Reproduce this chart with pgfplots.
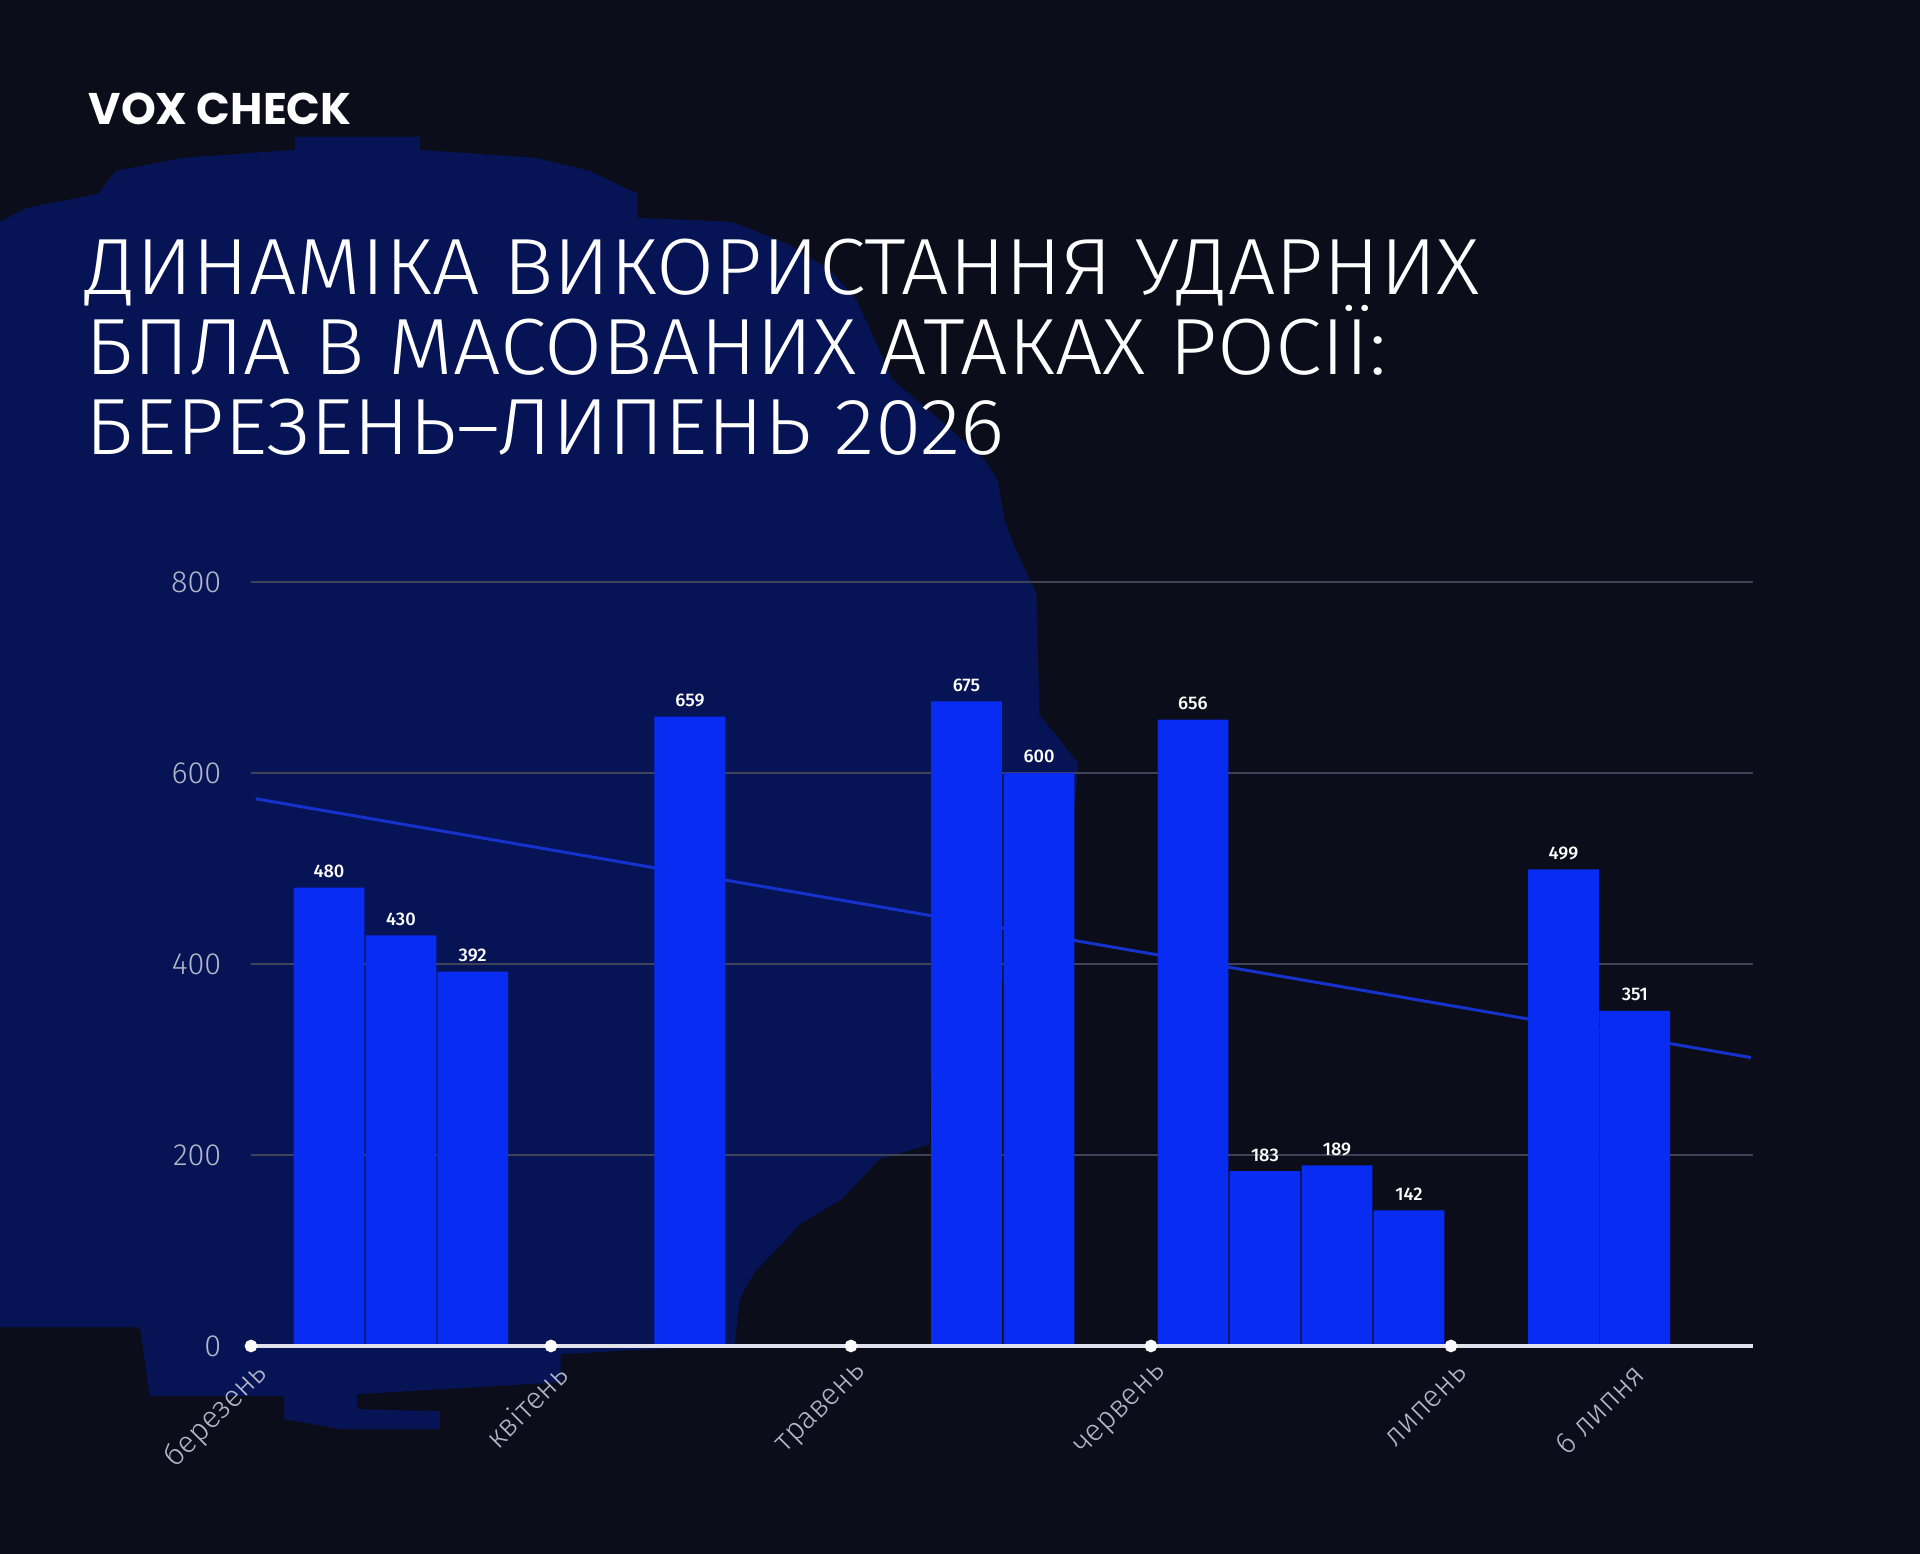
\documentclass[border=0pt]{standalone}
\usepackage{pgfplots}
\pgfplotsset{compat=1.18}
\usepackage{pgfplotstable}
\usepackage{fontspec}
\setmainfont{Fira Sans}
\newfontfamily\titlefont{Fira Sans Light}
\newfontfamily\valfont{Fira Sans Medium}
\newfontfamily\logofont{Poppins}
\definecolor{bgdark}{RGB}{12,13,26}
\definecolor{blob}{RGB}{6,20,86}
\definecolor{barblue}{RGB}{8,44,242}
\definecolor{trend}{RGB}{22,50,205}
\definecolor{gridgrey}{RGB}{64,66,88}
\definecolor{ticktext}{RGB}{178,182,200}
\definecolor{zeroline}{RGB}{225,226,235}

\pgfplotstableread{
x y
0.260 480
0.500 430
0.739 392
1.463 659
2.385 675
2.627 600
3.140 656
3.380 183
3.620 189
3.860 142
4.375 499
4.613 351
}\attacks

\begin{document}
\begin{tikzpicture}
\fill[bgdark] (0,0) rectangle (19.2,15.54);
\begin{scope}[yshift=15.54cm, x=0.01cm, y=-0.01cm]
\fill[blob] (0,222) -- (27,208) -- (98,194) -- (116,171) -- (183,158) -- (295,150) -- (295,137) -- (420,137) -- (420,150) -- (536,158) -- (590,171) -- (638,194) -- (638,218) -- (732,222) -- (790,245) -- (830,270) -- (857,300) -- (875,340) -- (893,380) -- (940,420) -- (985,460) -- (998,480) -- (1005,520) -- (1014,545) -- (1037,594) -- (1040,715) -- (1060,740) -- (1079,764) -- (1076,800) -- (1000,990) -- (932,1036) -- (930,1145) -- (880,1160) -- (842,1200) -- (800,1225) -- (777,1250) -- (755,1273) -- (740,1300) -- (735,1346) -- (650,1350) -- (561,1355) -- (561,1383) -- (357,1395) -- (357,1410) -- (440,1412) -- (440,1430) -- (342,1430) -- (284,1420) -- (284,1397) -- (150,1397) -- (140,1328) -- (0,1328) -- cycle;
\end{scope}
\node[anchor=base west, inner sep=0pt, text=white, font=\logofont\bfseries\fontsize{12.6}{15}\selectfont] at (0.88,14.29) {VOX CHECK};
\begin{scope}[every node/.style={anchor=base west, inner sep=0pt, text=white, xscale=1.054, font=\titlefont\fontsize{22.7}{27}\selectfont}]
\node at (0.85,12.59) {ДИНАМІКА ВИКОРИСТАННЯ УДАРНИХ};
\node at (0.85,11.79) {БПЛА В МАСОВАНИХ АТАКАХ РОСІЇ:};
\node at (0.85,10.99) {БЕРЕЗЕНЬ–ЛИПЕНЬ 2026};
\end{scope}
\begin{axis}[
  at={(2.51cm,2.08cm)}, anchor=south west,
  width=15.02cm, height=7.64cm, scale only axis,
  xmin=0, xmax=5.007, ymin=0, ymax=800,
  axis line style={draw=none},
  ytick={0,200,400,600,800},
  ymajorgrids, grid style={gridgrey, line width=0.55pt},
  major tick length=0pt,
  xtick={0,1,2,3,4,4.59},
  xticklabels={березень,квітень,травень,червень,липень,6 липня},
  /pgf/number format/assume math mode=true,
  tick label style={font=\titlefont\fontsize{8.7}{10}\selectfont, text=ticktext},
  yticklabel style={anchor=east, inner sep=0pt, xshift=-0.29cm},
  xticklabel style={inner sep=0pt, xshift=0.12cm, yshift=-0.23cm, rotate=45, anchor=east},
  clip=false,
]
\addplot[trend, line width=0.85pt] coordinates {(0.016,573) (5.0,302)};
\addplot[ybar, bar width=0.236, fill=barblue, draw=none,
  nodes near coords,
  every node near coord/.append style={font=\valfont\fontsize{5.2}{6}\selectfont, text=white, anchor=base, inner sep=0pt, yshift=0.10cm}]
  table[x=x,y=y]{\attacks};
\addplot[zeroline, line width=1.2pt] coordinates {(0,0) (5.007,0)};
\addplot[only marks, mark=*, mark size=1.6pt, white] coordinates {(0,0) (1,0) (2,0) (3,0) (4,0)};
\end{axis}
\pgfresetboundingbox
\path[use as bounding box] (0,0) rectangle (19.2,15.54);
\end{tikzpicture}
\end{document}
